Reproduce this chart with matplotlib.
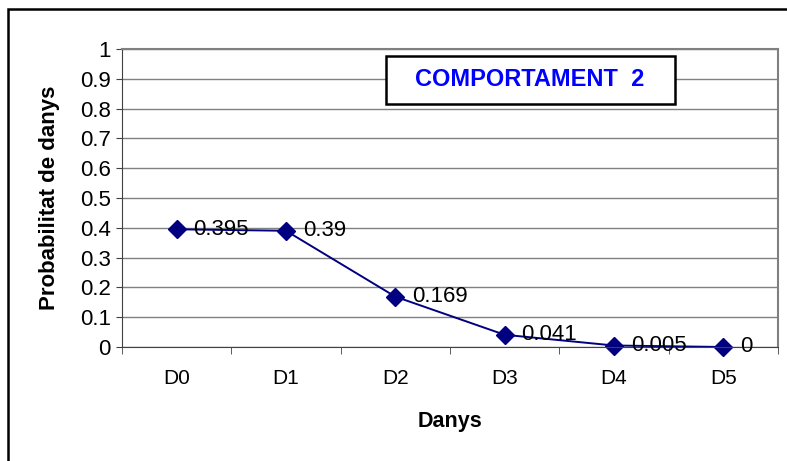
import matplotlib.pyplot as plt
import numpy as np
from matplotlib.patches import Rectangle

plt.rcParams['font.family'] = ['Liberation Sans', 'DejaVu Sans']

categories = ['D0', 'D1', 'D2', 'D3', 'D4', 'D5']
values = [0.395, 0.39, 0.169, 0.041, 0.005, 0]
labels = ['0.395', '0.39', '0.169', '0.041', '0.005', '0']

fig = plt.figure(figsize=(7.87, 4.61), dpi=100)
ax = fig.add_axes([0.155, 0.2473, 0.8335, 0.6464])

# outer chart border (only top and left edges fall inside the picture)
fig.add_artist(Rectangle((8 / 787, -0.05), 1.1, 1 - 9 / 461 + 0.05, transform=fig.transFigure,
                         fill=False, edgecolor='black', linewidth=1.8))

x = np.arange(len(categories))
ax.plot(x, values, color='#000080', marker='D', markersize=9, linewidth=1.4, clip_on=False)
for xi, v, t in zip(x, values, labels):
    ax.annotate(t, (xi, v), xytext=(12, 0), textcoords='offset points',
                va='center', ha='left', fontsize=16)

ax.set_xlim(-0.5, len(categories) - 0.5)
ax.set_ylim(0, 1)
ax.set_yticks(np.arange(0, 1.01, 0.1))
ax.set_yticklabels(['0', '0.1', '0.2', '0.3', '0.4', '0.5', '0.6', '0.7', '0.8', '0.9', '1'])
ax.set_xticks(x)
ax.set_xticklabels(categories)
ax.set_xticks(np.arange(-0.5, len(categories), 1), minor=True)
ax.tick_params(axis='x', which='major', length=0, pad=16, labelsize=15)
ax.tick_params(axis='x', which='minor', length=5, direction='out', color='#404040')
ax.tick_params(axis='y', length=4, direction='out', labelsize=16, color='#404040', pad=4)
ax.grid(axis='y', color='#808080', linewidth=1)
ax.set_axisbelow(True)
for s in ['top', 'right']:
    ax.spines[s].set_color('#808080')
    ax.spines[s].set_linewidth(1.5)
for s in ['left', 'bottom']:
    ax.spines[s].set_color('#404040')

ax.set_xlabel('Danys', fontsize=15.5, fontweight='bold')
ax.xaxis.set_label_coords(0.5, -0.215)
ax.set_ylabel('Probabilitat de danys', fontsize=16, fontweight='bold')
ax.yaxis.set_label_coords(-0.0945, 0.5)

# title box
ax.add_patch(Rectangle((0.4024, 0.8154), 0.4405, 0.161, transform=ax.transAxes,
                       facecolor='white', edgecolor='black', linewidth=1.8, zorder=5))
ax.text(0.622, 0.896, 'COMPORTAMENT  2', transform=ax.transAxes, ha='center', va='center',
        fontsize=17, fontweight='bold', color='#0000FF', zorder=6)

fig.savefig('out.png', dpi=100)
